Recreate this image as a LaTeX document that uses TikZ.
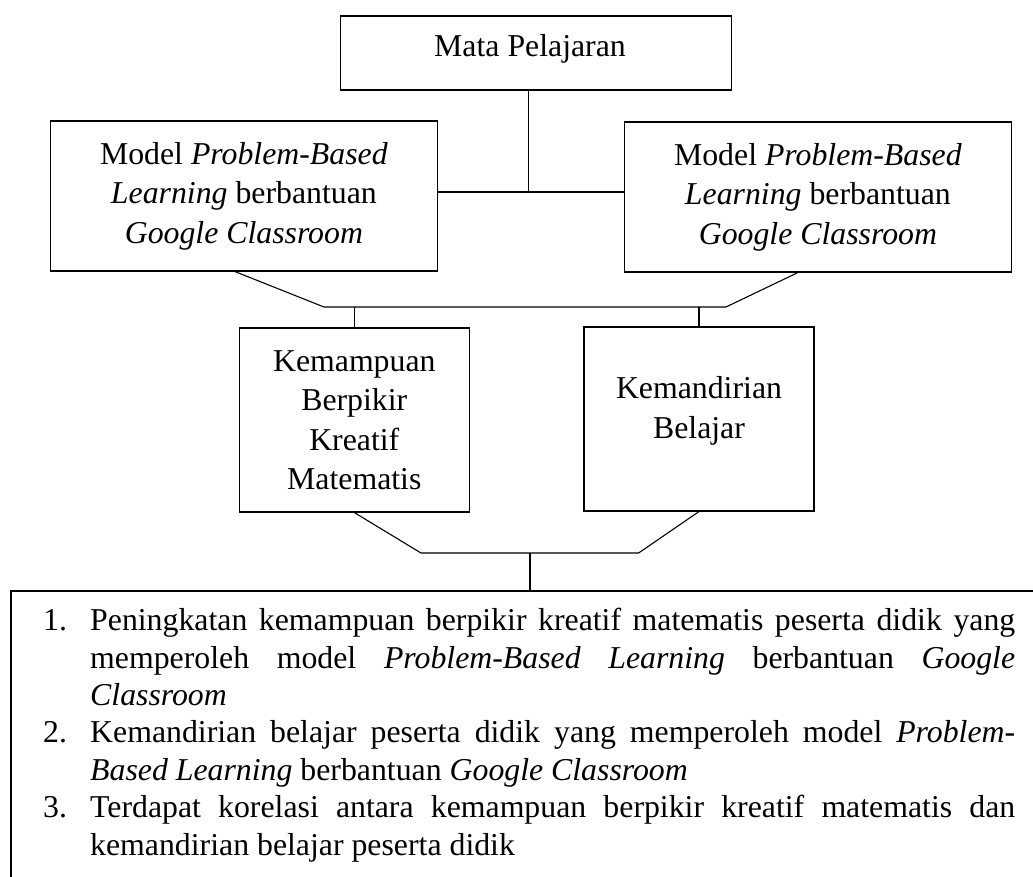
\documentclass[tikz,border=0pt]{standalone}
\usepackage{fontspec}
\setmainfont{Liberation Serif}
\usetikzlibrary{calc}
\begin{document}
\begin{tikzpicture}[x=1pt,y=-1pt,
  box/.style={draw, line width=1.1pt, inner sep=0pt, align=center,
    font=\fontsize{31.8}{39.5}\selectfont},
  txt/.style={font=\fontsize{31.8}{39.5}\selectfont, align=center, inner sep=0pt},
  ltxt/.style={font=\fontsize{31.8}{37.4}\selectfont, inner sep=0pt, anchor=base west},
  conn/.style={line width=1.1pt}]
\useasboundingbox (0,0) rectangle (1033,877);

% boxes
\node[box, minimum width=391pt, minimum height=74pt] (top) at (536.4,53) {};
\node[txt, anchor=base] (toptext) at (530,57) {Mata Pelajaran};
\node[box, minimum width=386.3pt, minimum height=150pt] (lb) at (243.9,196)
  {Model \textit{Problem-Based}\\\textit{Learning} berbantuan\\\textit{Google Classroom}};
\node[box, minimum width=387.7pt, minimum height=150pt] (rb) at (817.9,197)
  {Model \textit{Problem-Based}\\\textit{Learning} berbantuan\\\textit{Google Classroom}};
\node[box, minimum width=230.5pt, minimum height=184pt] (kb) at (354.3,420)
  {Kemampuan\\Berpikir\\Kreatif\\Matematis};
\node[box, minimum width=230pt, minimum height=184pt] (mb) at (699,419) {};
\node[txt] (mbtext) at (699,411) {Kemandirian\\Belajar};

% top connectors
\coordinate (j1) at (528.7,192);
\draw[conn] (top.south -| j1) -- (j1);
\draw[conn] (lb.east |- j1) -- (rb.west |- j1);

% middle connectors
\coordinate (m1) at (324,307);
\coordinate (m2) at (726,307);
\draw[conn] ($(lb.south)+(-9,0)$) -- (m1) -- (m2) -- ($(rb.south)+(-20,0)$);
\draw[conn] (kb.north |- m1) -- (kb.north);
\draw[conn] (mb.north |- m1) -- (mb.north);

% bottom connectors
\coordinate (b1) at (421,553);
\coordinate (b2) at (638.6,553);
\draw[conn] (kb.south) -- (b1) -- (b2) -- (mb.south);
\coordinate (bj) at (530,553);
\coordinate (bb) at (11,591);
\coordinate (bbl) at (11,877);
\coordinate (bbr) at (1033,591);
\draw[conn] (bj) -- (bj |- bb);
\draw[conn] (bbr) -- (bb) -- (bbl);

% list
\node[ltxt] (n1) at (43,630.7) {1.};
\node[ltxt, text width=925pt, align=justify] (i1) at (90,630.7)
  {\hyphenpenalty=10000 Peningkatan kemampuan berpikir kreatif matematis peserta didik yang\linebreak
  memperoleh model \textit{Problem-Based Learning} berbantuan \textit{Google\linebreak Classroom}};
\node[ltxt] (n2) at (43,742.9) {2.};
\node[ltxt, text width=925pt, align=justify] (i2) at (90,742.9)
  {\hyphenpenalty=10000 Kemandirian belajar peserta didik yang memperoleh model \textit{Problem-\linebreak Based Learning} berbantuan \textit{Google Classroom}};
\node[ltxt] (n3) at (43,817.7) {3.};
\node[ltxt, text width=925pt, align=justify] (i3) at (90,817.7)
  {\hyphenpenalty=10000 Terdapat korelasi antara kemampuan berpikir kreatif matematis dan\linebreak
  kemandirian belajar peserta didik};
\end{tikzpicture}
\end{document}
